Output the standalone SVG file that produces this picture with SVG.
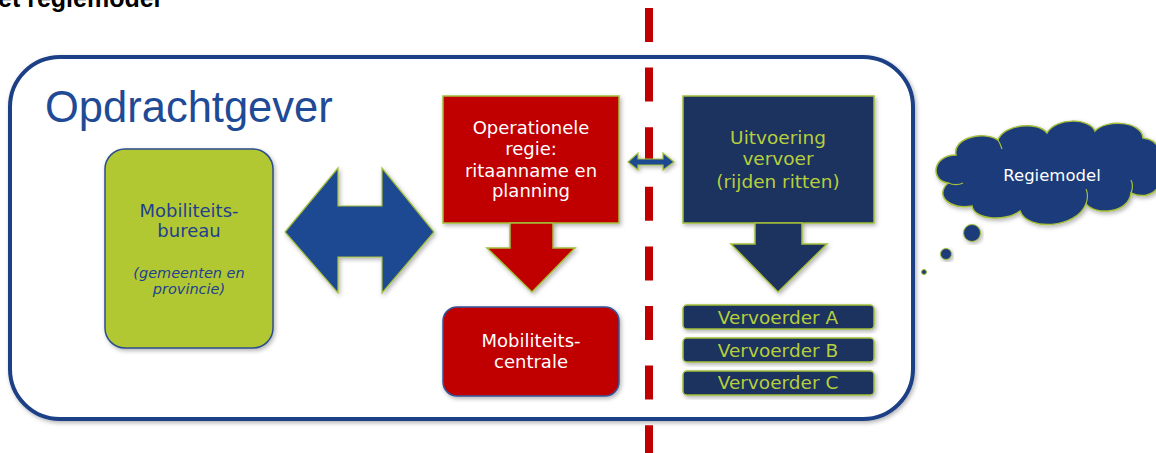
<svg xmlns="http://www.w3.org/2000/svg" width="1156" height="453" viewBox="0 0 1156 453">
<defs>
<filter id="sh" x="-10%" y="-10%" width="130%" height="130%">
<feDropShadow dx="1.5" dy="2" stdDeviation="2" flood-color="#000" flood-opacity="0.3"/>
</filter>
<style>
.v{font-family:"DejaVu Sans",Verdana,sans-serif;text-anchor:middle}
.w{fill:#ffffff}
.g{fill:#b6cf3c}
.bl{fill:#1f3f8f}
.red{fill:#c00000;stroke:#a3bf3a;stroke-width:1.5}
.navy{fill:#1b305f;stroke:#a3bf3a;stroke-width:1.5}
.arr{fill:#1f4991;stroke:#a3bf3a;stroke-width:1.2}
</style>
</defs>
<rect width="1156" height="453" fill="#ffffff"/>
<text x="-2" y="7" font-family="Liberation Sans,Arial,sans-serif" font-weight="bold" font-size="25" fill="#000">et regiemodel</text>

<g id="opdrachtgever">
<rect x="10" y="57" width="903" height="362" rx="50" fill="#ffffff" stroke="#1f3f86" stroke-width="4" filter="url(#sh)"/>
<text x="45" y="122" font-family="Liberation Sans,Arial,sans-serif" font-size="43.5" fill="#1f4a95">Opdrachtgever</text>
</g>

<g id="mobiliteitsbureau">
<rect x="105" y="149" width="168" height="199" rx="20" fill="#b2c833" stroke="#2c4d8c" stroke-width="1.5" filter="url(#sh)"/>
<text class="v bl" x="189" y="217" font-size="18">Mobiliteits-</text>
<text class="v bl" x="189" y="237" font-size="18">bureau</text>
<text class="v bl" x="189" y="278" font-size="14.5" font-style="italic">(gemeenten en</text>
<text class="v bl" x="189" y="294" font-size="14.5" font-style="italic">provincie)</text>
</g>

<g id="operationele-regie">
<rect class="red" x="443" y="96" width="176" height="127" filter="url(#sh)"/>
<text class="v w" x="531" y="134" font-size="18">Operationele</text>
<text class="v w" x="531" y="155" font-size="18">regie:</text>
<text class="v w" x="531" y="177" font-size="18">ritaanname en</text>
<text class="v w" x="531" y="197" font-size="18">planning</text>
</g>

<g id="mobiliteitscentrale">
<rect x="443" y="307" width="176" height="89" rx="14" fill="#c00000" stroke="#34569a" stroke-width="1.5" filter="url(#sh)"/>
<text class="v w" x="531" y="347" font-size="18">Mobiliteits-</text>
<text class="v w" x="531" y="368" font-size="18">centrale</text>
</g>

<g id="uitvoering-vervoer">
<rect class="navy" x="683" y="96" width="191" height="127" filter="url(#sh)"/>
<text class="v g" x="778" y="144" font-size="18.5">Uitvoering</text>
<text class="v g" x="778" y="165" font-size="18.5">vervoer</text>
<text class="v g" x="778" y="188" font-size="18.5">(rijden ritten)</text>
</g>

<g id="vervoerder-a">
<rect class="navy" x="683" y="305" width="191" height="24" rx="4" filter="url(#sh)"/>
<text class="v g" x="778" y="324" font-size="18.5">Vervoerder A</text>
</g>
<g id="vervoerder-b">
<rect class="navy" x="683" y="338" width="191" height="24" rx="4" filter="url(#sh)"/>
<text class="v g" x="778" y="357" font-size="18.5">Vervoerder B</text>
</g>
<g id="vervoerder-c">
<rect class="navy" x="683" y="371" width="191" height="24" rx="4" filter="url(#sh)"/>
<text class="v g" x="778" y="389" font-size="18.5">Vervoerder C</text>
</g>

<g id="regiemodel">
<path d="M948,183 C930,181 932,155 956,155 C952,139 982,130 998,140 C1004,124 1038,121 1047,133 C1056,117 1090,118 1095,131 C1106,119 1142,121 1143,138 C1162,140 1166,160 1157,168 C1168,186 1150,202 1131,193 C1129,213 1096,216 1086,204 C1076,229 1027,231 1020,211 C1006,222 974,220 972,206 C950,210 934,196 948,183 Z" fill="#1f3a7a" stroke="#a3bf3a" stroke-width="1.5" filter="url(#sh)"/>
<path d="M948,183 C953,185 959,185 963,183 M998,140 C1000,143 1001,146 1002,149 M1086,204 C1088,198 1088,193 1086,189 M1131,193 C1133,188 1133,184 1131,180" fill="none" stroke="#a3bf3a" stroke-width="1.2"/>
<text class="v w" x="1052" y="181" font-size="16.5">Regiemodel</text>
<circle cx="972" cy="233" r="8.5" fill="#1f3a7a" stroke="#a3bf3a" stroke-width="1" filter="url(#sh)"/>
<circle cx="946" cy="254" r="5.5" fill="#1f3a7a" stroke="#a3bf3a" stroke-width="1" filter="url(#sh)"/>
<circle cx="924" cy="272" r="2.5" fill="#1f3a7a" stroke="#a3bf3a" stroke-width="1"/>
</g>

<g id="connectors">
<line x1="649" y1="8" x2="649" y2="453" stroke="#c00000" stroke-width="8" stroke-dasharray="34 25.6"/>
<path class="arr" filter="url(#sh)" d="M285,232 L338,168 L338,206 L382,206 L382,168 L434,232 L382,293 L382,257 L338,257 L338,293 Z"/>
<path class="red" filter="url(#sh)" d="M510,223 L553,223 L553,248 L575,248 L532,292 L487,248 L510,248 Z"/>
<path class="navy" filter="url(#sh)" d="M755,223 L802,223 L802,244 L827,244 L778,292 L731,244 L755,244 Z"/>
<path class="arr" filter="url(#sh)" d="M628,162 L638,153 L638,159 L663,159 L663,153 L674,162 L663,170 L663,165 L638,165 L638,170 Z"/>
</g>
</svg>
